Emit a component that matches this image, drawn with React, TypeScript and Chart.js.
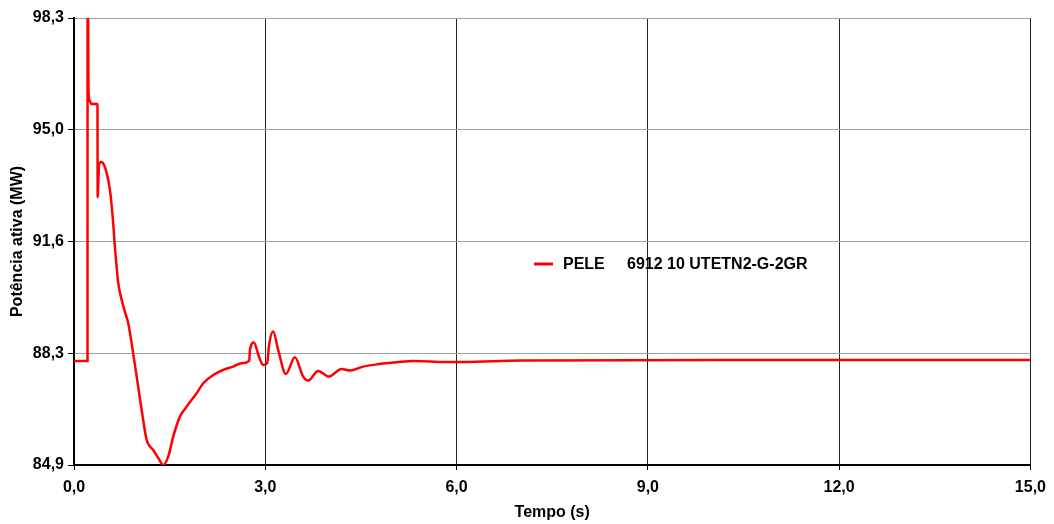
import React, { useEffect, useRef } from "react";
import { Chart, registerables } from "chart.js";

Chart.register(...registerables);

// Time (s) and active power (MW)
const timeS: number[] = [
  0, 0.212, 0.213, 0.227, 0.243, 0.274, 0.368, 0.371, 0.392, 0.423,
  0.459, 0.513, 0.564, 0.611, 0.643, 0.694, 0.748, 0.799, 0.851, 0.904,
  0.983, 1.061, 1.14, 1.243, 1.321, 1.4, 1.478, 1.556, 1.661, 1.766,
  1.923, 2.027, 2.183, 2.34, 2.497, 2.628, 2.748, 2.759, 2.821, 2.9,
  2.967, 3.03, 3.056, 3.124, 3.202, 3.323, 3.464, 3.594, 3.672, 3.829,
  3.997, 4.196, 4.326, 4.534, 4.796, 5.058, 5.318, 5.842, 6.102, 7.0,
  9.0, 12.0, 15.0,
];
const powerMW: number[] = [
  88.02, 88.02, 101.0, 96.14, 95.84, 95.72, 95.72, 92.93, 93.89, 93.98,
  93.94, 93.65, 93.14, 92.24, 91.41, 90.35, 89.85, 89.49, 89.15, 88.55,
  87.55, 86.55, 85.65, 85.35, 85.11, 84.9, 85.15, 85.75, 86.35, 86.65,
  87.05, 87.35, 87.6, 87.75, 87.85, 87.95, 88.02, 88.35, 88.57, 88.15,
  87.9, 87.95, 88.45, 88.9, 88.35, 87.63, 88.13, 87.55, 87.43, 87.72,
  87.55, 87.78, 87.73, 87.85, 87.93, 87.98, 88.02, 87.99, 87.99, 88.03,
  88.04, 88.05, 88.05,
];

const yTickValues: number[] = [84.9, 88.25, 91.6, 94.95, 98.3];
const yTickLabels: string[] = ["84,9", "88,3", "91,6", "95,0", "98,3"];
const xTickValues: number[] = [0, 3, 6, 9, 12, 15];
const xTickLabels: string[] = ["0,0", "3,0", "6,0", "9,0", "12,0", "15,0"];

const seriesLabel = "PELE     6912 10 UTETN2-G-2GR";
const xTitle = "Tempo (s)";
const yTitle = "Potência ativa (MW)";

const FONT = "Arial, 'Liberation Sans', sans-serif";

const inlineLegend = {
  id: "inlineLegend",
  afterDatasetsDraw(chart: any) {
    const { ctx, chartArea } = chart;
    const x0 = chartArea.left + 460;
    const y0 = chartArea.top + 246;
    ctx.save();
    ctx.strokeStyle = "#ff0000";
    ctx.lineWidth = 3;
    ctx.beginPath();
    ctx.moveTo(x0, y0);
    ctx.lineTo(x0 + 19, y0);
    ctx.stroke();
    ctx.font = `bold 16px ${FONT}`;
    ctx.fillStyle = "#000";
    ctx.textBaseline = "middle";
    ctx.textAlign = "left";
    ctx.fillText(seriesLabel, x0 + 29, y0 + 1);
    ctx.restore();
  },
};

export default function App() {
  const canvasRef = useRef<HTMLCanvasElement | null>(null);

  useEffect(() => {
    if (!canvasRef.current) return;
    const points = timeS.map((t, i) => ({ x: t, y: powerMW[i] }));
    const chart = new Chart(canvasRef.current, {
      type: "line",
      data: {
        datasets: [
          {
            label: seriesLabel,
            data: points,
            borderColor: "#ff0000",
            backgroundColor: "#ff0000",
            borderWidth: 2.5,
            pointRadius: 0,
            cubicInterpolationMode: "monotone",
            fill: false,
          },
        ],
      },
      options: {
        animation: false,
        responsive: false,
        maintainAspectRatio: false,
        layout: { padding: { top: 18, right: 23, left: 0, bottom: 0 } },
        plugins: {
          legend: { display: false },
          tooltip: { enabled: false },
        },
        scales: {
          x: {
            type: "linear",
            min: 0,
            max: 15,
            afterFit: (scale: any) => {
              scale.height = 59;
            },
            afterBuildTicks: (scale: any) => {
              scale.ticks = xTickValues.map((v) => ({ value: v }));
            },
            ticks: {
              color: "#000",
              padding: 8,
              maxRotation: 0,
              font: { family: FONT, size: 16, weight: "bold" },
              callback: (v: any) => {
                const i = xTickValues.indexOf(Number(v));
                return i >= 0 ? xTickLabels[i] : "";
              },
            },
            grid: {
              color: "#222",
              lineWidth: 1,
              tickLength: 5,
              tickColor: "#000",
            },
            border: { color: "#000", width: 2 },
            title: {
              display: true,
              text: xTitle,
              color: "#000",
              font: { family: FONT, size: 16, weight: "bold" },
              padding: { top: 0, bottom: 2 },
            },
          },
          y: {
            type: "linear",
            min: 84.9,
            max: 98.3,
            afterFit: (scale: any) => {
              scale.width = 74;
            },
            afterBuildTicks: (scale: any) => {
              scale.ticks = yTickValues.map((v) => ({ value: v }));
            },
            ticks: {
              color: "#000",
              padding: 4,
              font: { family: FONT, size: 16, weight: "bold" },
              callback: (v: any) => {
                let best = 0;
                yTickValues.forEach((tv, i) => {
                  if (Math.abs(tv - Number(v)) < Math.abs(yTickValues[best] - Number(v))) best = i;
                });
                return yTickLabels[best];
              },
            },
            grid: {
              color: "#a0a0a0",
              lineWidth: 1,
              tickLength: 6,
              tickColor: "#000",
            },
            border: { color: "#000", width: 2 },
            title: {
              display: true,
              text: yTitle,
              color: "#000",
              font: { family: FONT, size: 16, weight: "bold" },
              padding: { top: 8, bottom: 0 },
            },
          },
        },
      },
      plugins: [inlineLegend],
    });
    return () => chart.destroy();
  }, []);

  return (
    <div style={{ position: "fixed", left: 0, top: 0, width: 1054, height: 524, background: "#fff" }}>
      <canvas ref={canvasRef} width={1054} height={524} style={{ display: "block" }} />
    </div>
  );
}
